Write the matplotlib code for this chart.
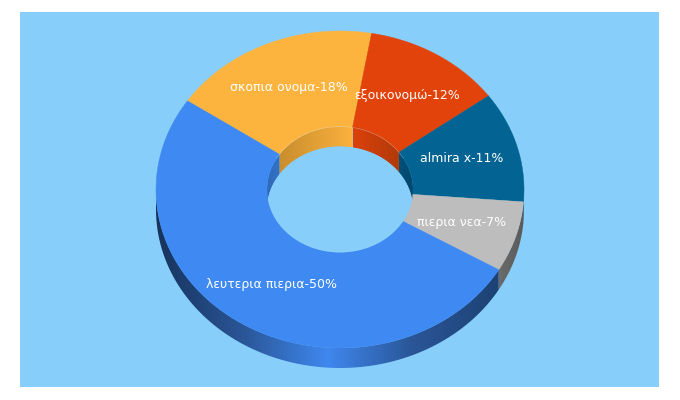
"""
Doughnut chart with a fake 3D depth, drawn from slice shares on pixel-sized axes.
"""
import numpy as np
from matplotlib import pyplot as plt
from matplotlib.colors import LinearSegmentedColormap
from matplotlib.patches import Polygon, Rectangle

# shares, the labels round them differently
LABELS = ['σκοπια ονομα-18%', 'εξοικονομώ-12%', 'almira x-11%', 'πιερια νεα-7%', 'λευτερια πιερια-50%']
SHARES = [18.3, 12.2, 11.3, 7.2, 51.0]
COLORS = ['#fdb43f', '#e2430a', '#036494', '#bdbdbd', '#3f8af2']
OUTER_WALL = [None, None, ['#03476b', '#03476b'], ['#6b6b6b', '#5a5a5a'],
              ['#16335c', '#2a5596', '#3f88ef', '#2a5596', '#1d4274']]
INNER_WALL = [['#c98e2e', '#fbb13d'], ['#dc410a', '#b03a0a'], ['#03507a', '#03476b'],
              None, ['#2f6ab8', '#3272c6']]
LABEL_POS = [(289, 87.5), (407, 95.5), (462, 159), (462, 222.5), (271.5, 284.5)]

BG = '#87cefa'
CX, CY = 340, 189.5
RX, RY = 184, 158.5
HOLE = 0.397
DEPTH = 20
START = -56


def arc(a0, a1, scale=1.0, dy=0.0):
    t = np.radians(np.linspace(a0, a1, 120))
    return np.column_stack([CX + RX * scale * np.sin(t), CY + dy - RY * scale * np.cos(t)])


def gradient_wall(ax, pts, stops, zorder):
    clip = Polygon(pts, closed=True, transform=ax.transData)
    cmap = LinearSegmentedColormap.from_list('wall', stops)
    im = ax.imshow(
        np.linspace(0, 1, 256)[None, :], cmap=cmap, aspect='auto', zorder=zorder,
        extent=[pts[:, 0].min(), pts[:, 0].max(), pts[:, 1].max(), pts[:, 1].min()]
    )
    im.set_clip_path(clip)


fig = plt.figure(figsize=(6.8, 4), dpi=100)
ax = fig.add_axes([0, 0, 1, 1])
ax.add_patch(Rectangle((20, 12), 639, 375, color=BG, lw=0, zorder=0))

edges = START + np.cumsum([0] + SHARES) * 3.6

for i, color in enumerate(COLORS):
    a0, a1 = edges[i], edges[i + 1]

    # outer wall, only the front half shows
    lo, hi = max(a0, 90), min(a1, 270)
    if lo < hi:
        wall = np.vstack([arc(lo, hi), arc(hi, lo, dy=DEPTH)])
        gradient_wall(ax, wall, OUTER_WALL[i], 1)

    # inner wall, only the back half shows
    for span in (-90, 90), (270, 450):
        lo, hi = max(a0, span[0]), min(a1, span[1])
        if lo < hi:
            wall = np.vstack([arc(lo, hi, HOLE), arc(hi, lo, HOLE, DEPTH)])
            gradient_wall(ax, wall, INNER_WALL[i], 2)

    face = np.vstack([arc(a0, a1), arc(a1, a0, HOLE)])
    ax.add_patch(Polygon(face, closed=True, fc=color, ec=color, lw=0.3, zorder=3))

# what is left of the hole is the overlap of the top and bottom inner ellipses
top_hole = Polygon(arc(0, 360, HOLE), closed=True, transform=ax.transData)
hole = Polygon(arc(0, 360, HOLE, DEPTH), closed=True, fc=BG, lw=0, zorder=4)
ax.add_patch(hole)
hole.set_clip_path(top_hole)

# faint rim along the back of the hole
rim = arc(-60, 60, HOLE)
ax.plot(rim[:, 0], rim[:, 1], color='white', alpha=0.25, lw=0.5, zorder=3.5)

for label, (x, y) in zip(LABELS, LABEL_POS):
    ax.text(x, y, label, color='white', fontsize=9, ha='center', va='center',
            family='DejaVu Sans', zorder=5)

ax.set_xlim(0, 680)
ax.set_ylim(400, 0)
ax.axis('off')
fig.savefig('out.png', dpi=100, facecolor='white')
